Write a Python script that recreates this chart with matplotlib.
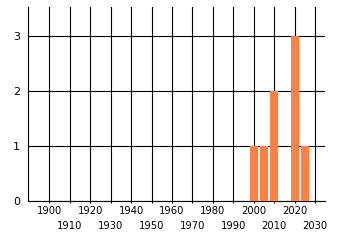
import matplotlib
matplotlib.use("Agg")
import matplotlib.pyplot as plt

# bar data
years = [2000, 2005, 2010, 2020, 2025]
counts = [1, 1, 2, 3, 1]

upper_ticks = [1900, 1920, 1940, 1960, 1980, 2000, 2020]
lower_ticks = [1910, 1930, 1950, 1970, 1990, 2010, 2030]
y_ticks = [0, 1, 2, 3]

fig = plt.figure(figsize=(3.4, 2.45), dpi=100)
ax = fig.add_axes([0.083, 0.18, 0.873, 0.791])

ax.bar(years, counts, width=3.9, color="#FF8040", zorder=3)

ax.set_xlim(1889.6, 2034.9)
ax.set_ylim(0, 3.53)

ax.set_xticks(upper_ticks)
ax.set_xticklabels([str(y) for y in upper_ticks])
ax.set_xticks(lower_ticks, minor=True)
ax.set_xticklabels([str(y) for y in lower_ticks], minor=True)
ax.set_yticks(y_ticks)

ax.tick_params(axis="x", which="major", length=1.5, width=0.8, pad=2,
               labelsize=7.2, color="black")
ax.tick_params(axis="x", which="minor", length=1.5, width=0.8, pad=13,
               labelsize=7.2, color="black")
ax.tick_params(axis="y", length=0, pad=6, labelsize=8)

ax.grid(True, which="both", axis="x", color="black", linewidth=0.8, zorder=1)
ax.grid(True, which="major", axis="y", color="black", linewidth=0.8, zorder=1)
ax.set_axisbelow(True)

for side in ["top", "right"]:
    ax.spines[side].set_visible(False)
for side in ["left", "bottom"]:
    ax.spines[side].set_linewidth(0.8)

fig.savefig("out.png", dpi=100)
